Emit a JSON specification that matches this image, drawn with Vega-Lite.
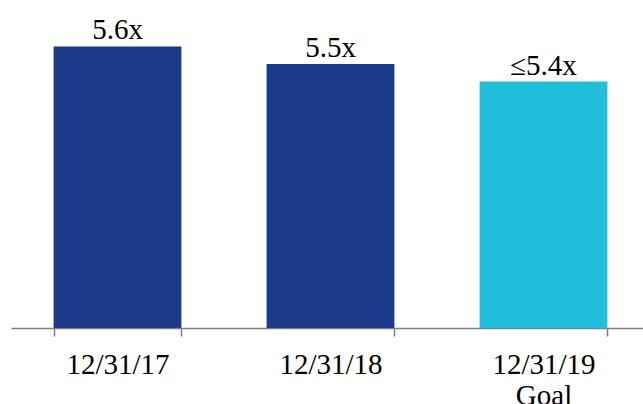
{
  "$schema": "https://vega.github.io/schema/vega-lite/v6.json",
  "width": 632,
  "height": 328,
  "autosize": {"type": "none"},
  "padding": {"left": 11, "top": 0, "right": 0, "bottom": 76},
  "background": "white",
  "config": {"view": {"stroke": null}, "font": "Liberation Serif"},
  "data": {
    "values": [
      {"date": "12/31/17", "value": 5.6, "label": "5.6x", "type": "Actual"},
      {"date": "12/31/18", "value": 5.5, "label": "5.5x", "type": "Actual"},
      {"date": "12/31/19", "value": 5.4, "label": "≤5.4x", "type": "Goal"}
    ]
  },
  "encoding": {
    "x": {
      "field": "date",
      "type": "nominal",
      "sort": null,
      "scale": {"range": [0, 639], "paddingInner": 0.4, "paddingOuter": 0.2},
      "axis": {
        "title": null,
        "labelAngle": 0,
        "labelFont": "Liberation Serif",
        "labelFontSize": 29,
        "labelColor": "#000000",
        "labelPadding": 14,
        "labelLineHeight": 31,
        "labelExpr": "datum.value == '12/31/19' ? ['12/31/19', 'Goal'] : datum.value",
        "tickBand": "extent",
        "tickSize": 8,
        "tickColor": "#808080",
        "tickWidth": 1.5,
        "domainColor": "#808080",
        "domainWidth": 1.5
      }
    },
    "y": {
      "field": "value",
      "type": "quantitative",
      "scale": {"domain": [4, 5.8636], "zero": false, "nice": false},
      "axis": null
    }
  },
  "layer": [
    {
      "mark": {"type": "bar", "clip": true},
      "encoding": {
        "color": {
          "field": "type",
          "type": "nominal",
          "scale": {"domain": ["Actual", "Goal"], "range": ["#1B3A8A", "#21BEDC"]},
          "legend": null
        }
      }
    },
    {
      "mark": {"type": "text", "baseline": "alphabetic", "dy": -7, "fontSize": 29, "font": "Liberation Serif", "color": "#000000"},
      "encoding": {"text": {"field": "label"}}
    }
  ]
}
